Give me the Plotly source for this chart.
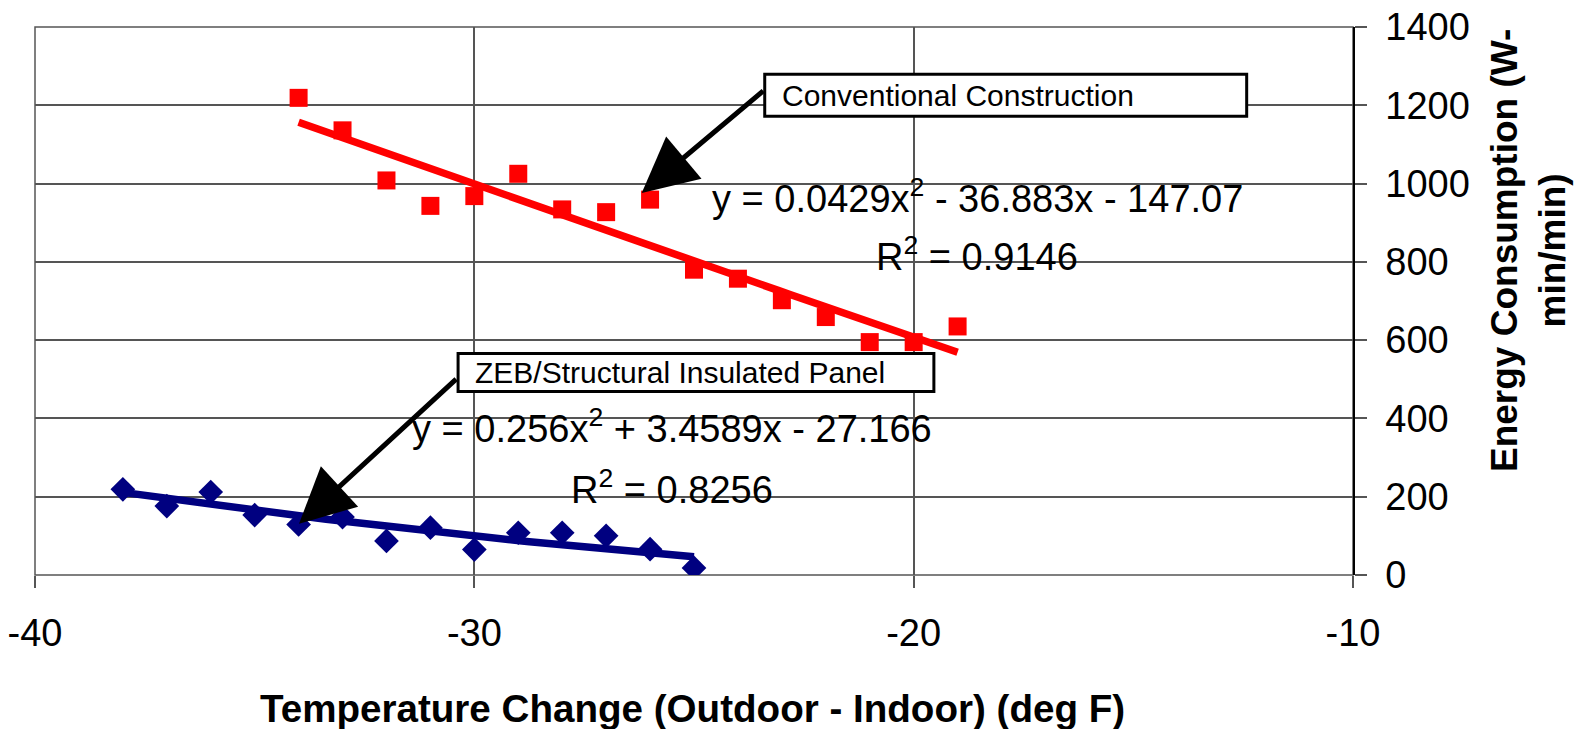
import numpy as np
import plotly.graph_objects as go

# Measured energy use vs. outdoor-indoor temperature difference
conv_temp = [-34, -33, -32, -31, -30, -29, -28, -27, -26, -25, -24, -23, -22, -21, -20, -19]
conv_energy = [1219, 1136, 1008, 943, 968, 1025, 934, 927, 959, 780, 757, 702, 659, 595, 595, 635]

zeb_temp = [-38, -37, -36, -35, -34, -33, -32, -31, -30, -29, -28, -27, -26, -25]
zeb_energy = [219, 176, 212, 153, 129, 148, 87, 121, 65, 108, 108, 100, 66, 18]

# Second-order polynomial trendlines (a*x^2 + b*x + c) and their R^2
conv_fit = [0.0429, -36.883, -147.07]
conv_r2 = 0.9146
zeb_fit = [0.256, 3.4589, -27.166]
zeb_r2 = 0.8256

x_ticks = [-40, -30, -20, -10]
y_ticks = [0, 200, 400, 600, 800, 1000, 1200, 1400]

RED = "#FF0000"
NAVY = "#000080"
GRID = "#555555"
FONT = "Liberation Sans, Arial, sans-serif"


def equation(coefs):
    a, b, c = coefs
    sb = "+" if b >= 0 else "-"
    sc = "+" if c >= 0 else "-"
    return f"y = {a:g}x<sup>2</sup> {sb} {abs(b):g}x {sc} {abs(c):g}"


def trend(coefs, xs):
    xx = np.linspace(min(xs), max(xs), 60)
    return xx, np.polyval(coefs, xx)


fig = go.Figure()

fig.add_trace(go.Scatter(
    x=conv_temp, y=conv_energy, mode="markers",
    marker=dict(symbol="square", size=18, color=RED, line=dict(width=0)),
    name="Conventional Construction",
))
fig.add_trace(go.Scatter(
    x=zeb_temp, y=zeb_energy, mode="markers",
    marker=dict(symbol="diamond", size=19, color=NAVY, line=dict(width=0)),
    name="ZEB/Structural Insulated Panel",
))

cx, cy = trend(conv_fit, conv_temp)
fig.add_trace(go.Scatter(x=cx, y=cy, mode="lines",
                         line=dict(color=RED, width=7.5), hoverinfo="skip"))
zx, zy = trend(zeb_fit, zeb_temp)
fig.add_trace(go.Scatter(x=zx, y=zy, mode="lines",
                         line=dict(color=NAVY, width=7.5), hoverinfo="skip"))

# Plot-area frame (edge gridlines)
fig.add_shape(type="rect", xref="paper", yref="paper", x0=0, x1=1, y0=0, y1=1,
              line=dict(color=GRID, width=1.5), layer="below")

# Label boxes
fig.add_shape(type="rect", xref="x", yref="y", x0=-23.39, x1=-12.42, y0=1172, y1=1279,
              line=dict(color="black", width=3), fillcolor="white", layer="above")
fig.add_shape(type="rect", xref="x", yref="y", x0=-30.37, x1=-19.54, y0=469, y1=566,
              line=dict(color="black", width=3), fillcolor="white", layer="above")

annotations = [
    dict(x=-23.05, y=1226, text="Conventional Construction", xanchor="left", yanchor="middle",
         showarrow=False, font=dict(family=FONT, size=30, color="black")),
    dict(x=-30.04, y=518, text="ZEB/Structural Insulated Panel", xanchor="left", yanchor="middle",
         showarrow=False, font=dict(family=FONT, size=30, color="black")),
    # arrows from the label boxes to the series
    dict(x=-26.19, y=976, ax=-23.39, ay=1240, axref="x", ayref="y", text="",
         showarrow=True, arrowhead=2, arrowwidth=5, arrowsize=2.2, arrowcolor="black"),
    dict(x=-33.99, y=131, ax=-30.38, ay=504, axref="x", ayref="y", text="",
         showarrow=True, arrowhead=2, arrowwidth=5, arrowsize=2.2, arrowcolor="black"),
    # trendline equations
    dict(x=-18.55, y=967, text=equation(conv_fit), showarrow=False, xanchor="center",
         yanchor="middle", font=dict(family=FONT, size=38, color="black")),
    dict(x=-18.55, y=819, text=f"R<sup>2</sup> = {conv_r2:g}", showarrow=False, xanchor="center",
         yanchor="middle", font=dict(family=FONT, size=38, color="black")),
    dict(x=-25.50, y=380, text=equation(zeb_fit), showarrow=False, xanchor="center",
         yanchor="middle", font=dict(family=FONT, size=38, color="black")),
    dict(x=-25.50, y=226, text=f"R<sup>2</sup> = {zeb_r2:g}", showarrow=False, xanchor="center",
         yanchor="middle", font=dict(family=FONT, size=38, color="black")),
    # axis titles
    dict(xref="paper", yref="paper", x=0.499, y=-0.243, xanchor="center", yanchor="middle",
         text="<b>Temperature Change (Outdoor - Indoor) (deg F)</b>", showarrow=False,
         font=dict(family=FONT, size=38.6, color="black")),
    dict(xref="paper", yref="paper", x=1.1333, y=0.5925, xanchor="center", yanchor="middle",
         textangle=-90, text="<b>Energy Consumption (W-<br>min/min)</b>", showarrow=False,
         font=dict(family=FONT, size=37, color="black")),
]

fig.update_layout(
    width=1583, height=729,
    margin=dict(l=35, r=230, t=27, b=154),
    plot_bgcolor="white", paper_bgcolor="white",
    showlegend=False,
    annotations=annotations,
    xaxis=dict(
        range=[-40, -10], tickvals=x_ticks, ticktext=[str(v) for v in x_ticks],
        showgrid=True, gridcolor=GRID, gridwidth=1.5, zeroline=False, automargin=False,
        showline=False, ticks="outside", ticklen=12, tickwidth=1.5, tickcolor=GRID,
        ticklabelstandoff=12,
        tickfont=dict(family=FONT, size=38, color="black"),
    ),
    yaxis=dict(
        range=[0, 1400], tickvals=y_ticks, ticktext=[str(v) for v in y_ticks],
        side="right", showgrid=True, gridcolor=GRID, gridwidth=1.5, zeroline=False,
        automargin=False,
        showline=True, linecolor="black", linewidth=1.5,
        ticks="outside", ticklen=12, tickwidth=1.5, tickcolor=GRID,
        ticklabelstandoff=11,
        tickfont=dict(family=FONT, size=38, color="black"),
    ),
)

fig.write_html("out.html")
